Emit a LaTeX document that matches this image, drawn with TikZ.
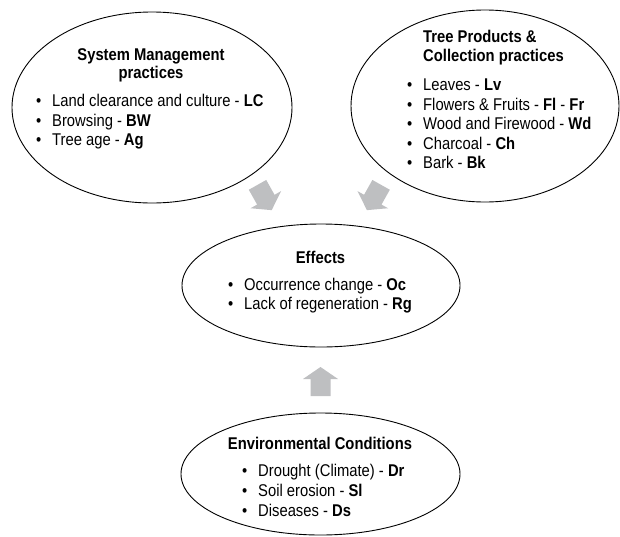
\documentclass[tikz,border=0pt]{standalone}
\usepackage{fontspec}
\setmainfont{Liberation Sans}[FakeStretch=0.87]
\usetikzlibrary{shapes.geometric}
\definecolor{arrowgray}{RGB}{190,191,193}
\newcommand\itemdot{\makebox[16pt][l]{\textbullet}}
\begin{document}
\begin{tikzpicture}[x=1pt,y=-1pt,
  bubble/.style={draw=black, line width=0.9pt, ellipse, inner sep=0pt},
  ttl/.style={font=\bfseries\fontsize{17}{20}\selectfont, inner sep=0pt, anchor=base},
  ttlw/.style={font=\bfseries\fontsize{17}{20}\selectfont, inner sep=0pt, anchor=base west},
  itm/.style={font=\fontsize{17}{20}\selectfont, inner sep=0pt, anchor=base west},
  blockarrow/.pic={\fill[arrowgray] (-14.5,-10) -- (2.5,-10) -- (2.5,-17.5) -- (14.5,0) -- (2.5,17.5) -- (2.5,10) -- (-14.5,10) -- cycle;}]
\useasboundingbox (0,0) rectangle (620,536);

% ellipses
\node[bubble, minimum width=280pt, minimum height=191pt] (sys) at (152,107.5) {};
\node[bubble, minimum width=268pt, minimum height=192pt] (tree) at (485,106) {};
\node[bubble, minimum width=278pt, minimum height=123pt] (eff) at (321,285.5) {};
\node[bubble, minimum width=279pt, minimum height=122pt] (env) at (320.5,474) {};

% block arrows
\pic[rotate=-60.7] (arrL) at (264.6,197.5) {blockarrow};
\pic[rotate=-119.3] (arrR) at (374,197.5) {blockarrow};
\pic[rotate=90] (arrU) at (320.5,381.5) {blockarrow};

% System Management
\node[ttl] (sysT1) at (151,60.5) {System Management};
\node[ttl] (sysT2) at (151,78) {practices};
\node[itm] (sysA) at (36,106) {\itemdot Land clearance and culture - \textbf{LC}};
\node[itm] (sysB) at (36,126) {\itemdot Browsing - \textbf{BW}};
\node[itm] (sysC) at (36,145.7) {\itemdot Tree age - \textbf{Ag}};

% Tree Products
\node[ttlw] (treeT1) at (423,42.5) {Tree Products \&};
\node[ttlw] (treeT2) at (423,61.5) {Collection practices};
\node[itm] (treeA) at (407,90) {\itemdot Leaves - \textbf{Lv}};
\node[itm] (treeB) at (407,110) {\itemdot Flowers \& Fruits - \textbf{Fl} - \textbf{Fr}};
\node[itm] (treeC) at (407,129.5) {\itemdot Wood and Firewood - \textbf{Wd}};
\node[itm] (treeD) at (407,149) {\itemdot Charcoal - \textbf{Ch}};
\node[itm] (treeE) at (407,168) {\itemdot Bark - \textbf{Bk}};

% Effects
\node[ttl] (effT) at (320.5,263.5) {Effects};
\node[itm] (effA) at (228,290.7) {\itemdot Occurrence change - \textbf{Oc}};
\node[itm] (effB) at (228,309.5) {\itemdot Lack of regeneration - \textbf{Rg}};

% Environmental Conditions
\node[ttl] (envT) at (320,449.5) {Environmental Conditions};
\node[itm] (envA) at (242,476.5) {\itemdot Drought (Climate) - \textbf{Dr}};
\node[itm] (envB) at (242,496.5) {\itemdot Soil erosion - \textbf{Sl}};
\node[itm] (envC) at (242,516) {\itemdot Diseases - \textbf{Ds}};
\end{tikzpicture}
\end{document}
